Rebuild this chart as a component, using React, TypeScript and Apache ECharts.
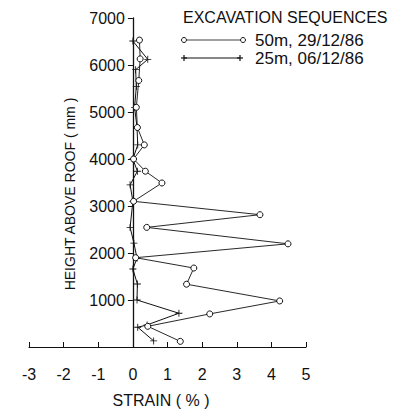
import React, { useEffect, useRef } from "react";
import * as echarts from "echarts";

const heights50 = [6530, 6130, 5670, 5100, 4670, 4300, 4000, 3740, 3490, 3100, 2815, 2545, 2195, 1900, 1680, 1336, 980, 704, 440, 120];
const strain50 = [0.19, 0.21, 0.17, 0.1, 0.13, 0.33, 0.02, 0.36, 0.84, 0.02, 3.67, 0.4, 4.48, 0.08, 1.76, 1.55, 4.24, 2.22, 0.43, 1.37];

const heights25 = [6510, 6120, 5900, 5540, 5100, 4670, 4300, 4000, 3740, 3450, 3100, 2545, 2210, 1890, 1660, 1340, 1000, 718, 470, 420, 130];
const strain25 = [0.0, 0.43, 0.08, 0.1, 0.05, 0.12, 0.14, 0.0, 0.13, -0.08, 0.0, -0.08, 0.03, 0.12, 0.0, 0.13, 0.12, 1.33, 0.41, 0.14, 0.6];

const xTicks = [-3, -2, -1, 0, 1, 2, 3, 4, 5];
const yTicks = [1000, 2000, 3000, 4000, 5000, 6000, 7000];

const legendTitle = "EXCAVATION SEQUENCES";
const seriesNames = ["50m, 29/12/86", "25m, 06/12/86"];
const xName = "STRAIN ( % )";
const yName = "HEIGHT ABOVE ROOF ( mm )";

const PLUS = "path://M4.4,0H5.6V4.4H10V5.6H5.6V10H4.4V5.6H0V4.4H4.4Z";
const FONT = "Liberation Sans, Arial, sans-serif";
const INK = "#111";

const GRID_LEFT = 29;
const GRID_RIGHT = 88;
const WIDTH = 394;

export default function App() {
  const ref = useRef<HTMLDivElement>(null);
  useEffect(() => {
    if (!ref.current) return;
    const chart = echarts.init(ref.current, undefined, { renderer: "svg" });
    const d50 = heights50.map((h, i) => [strain50[i], h]);
    const d25 = heights25.map((h, i) => [strain25[i], h]);
    const xMin = xTicks[0];
    const xMax = xTicks[xTicks.length - 1];
    const plotW = WIDTH - GRID_LEFT - GRID_RIGHT;
    const zeroOffset = ((0 - xMin) / (xMax - xMin)) * plotW;
    chart.setOption({
      animation: false,
      backgroundColor: "#fff",
      grid: { left: GRID_LEFT, right: GRID_RIGHT, top: 18, bottom: 65, containLabel: false, outerBoundsMode: "none" },
      xAxis: {
        type: "value",
        min: xMin,
        max: xMax,
        interval: 1,
        axisLine: { show: true, onZero: false, lineStyle: { color: INK, width: 1 } },
        axisTick: { show: true, inside: true, length: 5, lineStyle: { color: INK } },
        axisLabel: { color: INK, fontSize: 16, fontFamily: FONT, margin: 19 },
        splitLine: { show: false },
      },
      yAxis: {
        type: "value",
        min: 0,
        max: yTicks[yTicks.length - 1],
        interval: 1000,
        offset: -zeroOffset,
        axisLine: { show: true, onZero: false, lineStyle: { color: INK, width: 1.3 } },
        axisTick: { show: true, inside: false, length: 5, lineStyle: { color: INK } },
        axisLabel: {
          color: INK,
          fontSize: 16,
          fontFamily: FONT,
          margin: 8,
          formatter: (v: number) => (yTicks.includes(v) ? String(v) : ""),
        },
        splitLine: { show: false },
      },
      series: [
        {
          name: seriesNames[0],
          type: "line",
          data: d50,
          symbol: "circle",
          symbolSize: 6,
          showAllSymbol: true,
          lineStyle: { color: INK, width: 0.9 },
          itemStyle: { color: "#fff", borderColor: INK, borderWidth: 1 },
          z: 3,
        },
        {
          name: seriesNames[1],
          type: "line",
          data: d25,
          symbol: PLUS,
          symbolSize: 7,
          showAllSymbol: true,
          lineStyle: { color: INK, width: 1 },
          itemStyle: { color: INK },
          z: 2,
        },
      ],
      graphic: [
        {
          type: "text",
          x: 183,
          y: 17,
          style: { text: legendTitle, fill: INK, font: `16px ${FONT}`, verticalAlign: "middle" },
        },
        { type: "line", shape: { x1: 187, y1: 40, x2: 240, y2: 40 }, style: { stroke: INK, lineWidth: 0.8 } },
        { type: "circle", shape: { cx: 184, cy: 40, r: 2.5 }, style: { fill: "#fff", stroke: INK, lineWidth: 1 } },
        { type: "circle", shape: { cx: 243, cy: 40, r: 2.5 }, style: { fill: "#fff", stroke: INK, lineWidth: 1 } },
        {
          type: "text",
          x: 255,
          y: 40,
          style: { text: seriesNames[0], fill: INK, font: `17px ${FONT}`, verticalAlign: "middle" },
        },
        { type: "line", shape: { x1: 184, y1: 58, x2: 240, y2: 58 }, style: { stroke: INK, lineWidth: 1 } },
        { type: "line", shape: { x1: 181, y1: 58, x2: 187, y2: 58 }, style: { stroke: INK, lineWidth: 1.2 } },
        { type: "line", shape: { x1: 184, y1: 55, x2: 184, y2: 61 }, style: { stroke: INK, lineWidth: 1.2 } },
        { type: "line", shape: { x1: 237, y1: 58, x2: 243, y2: 58 }, style: { stroke: INK, lineWidth: 1.2 } },
        { type: "line", shape: { x1: 240, y1: 55, x2: 240, y2: 61 }, style: { stroke: INK, lineWidth: 1.2 } },
        {
          type: "text",
          x: 255,
          y: 58,
          style: { text: seriesNames[1], fill: INK, font: `17px ${FONT}`, verticalAlign: "middle" },
        },
        {
          type: "text",
          x: 161,
          y: 400,
          style: { text: xName, fill: INK, font: `16px ${FONT}`, align: "center", verticalAlign: "middle" },
        },
        {
          type: "text",
          x: 70,
          y: 194,
          rotation: Math.PI / 2,
          style: { text: yName, fill: INK, font: `14px ${FONT}`, align: "center", verticalAlign: "middle" },
        },
      ],
    });
    return () => chart.dispose();
  }, []);
  return (
    <div
      ref={ref}
      style={{ position: "fixed", left: 0, top: 0, width: 394, height: 412, background: "#fff" }}
    />
  );
}
